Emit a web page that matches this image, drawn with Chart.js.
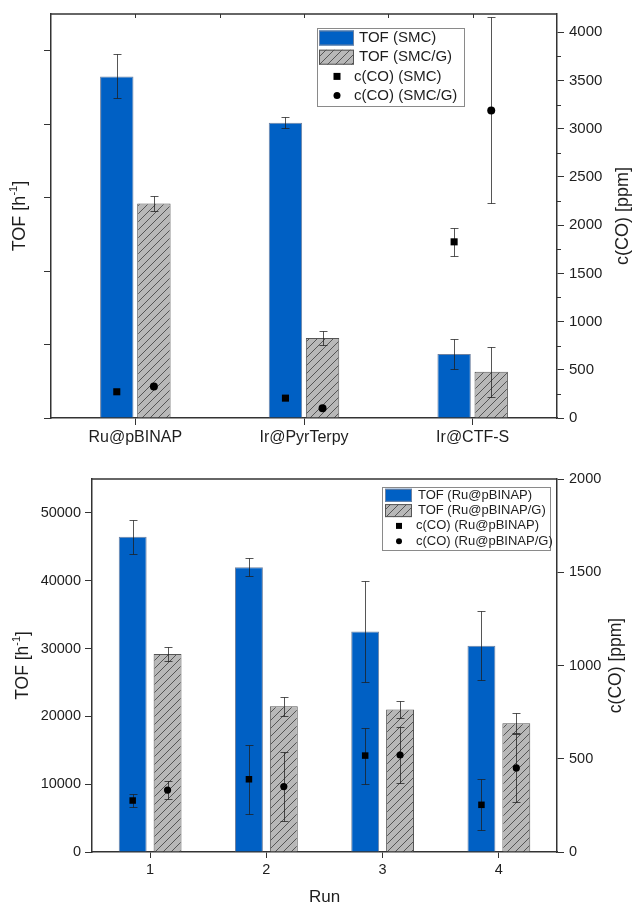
<!DOCTYPE html>
<html>
<head>
<meta charset="utf-8">
<title>TOF und c(CO)</title>
<style>
  body { margin: 0; background: #fff; }
  #wrap { position: relative; width: 633px; height: 906px; }
  canvas { position: absolute; left: 0; }
  #top { top: 0; }
  #bottom { top: 455px; }
</style>
</head>
<body>
<div id="wrap">
  <canvas id="top" width="633" height="455"></canvas>
  <canvas id="bottom" width="633" height="451"></canvas>
</div>

<script src="https://cdn.jsdelivr.net/npm/chart.js@4.4.1/dist/chart.umd.min.js"></script>
<script>
// ---- top panel: catalysts ----
var catalysts = ['Ru@pBINAP', 'Ir@PyrTerpy', 'Ir@CTF-S'];
var tofSMC = [46500, 40200, 8700];
var tofSMCErr = [3000, 750, 2000];
var tofSMCG = [29200, 10900, 6300];
var tofSMCGErr = [1000, 1000, 3400];
var coSMC = [272, 206, 1827];
var coSMCErr = [0, 0, 143];
var coSMCG = [327, 100, 3190];
var coSMCGErr = [0, 0, 965];
var tofTicksTop = [0, 10000, 20000, 30000, 40000, 50000];   // unlabelled
var coTicksTop = [0, 500, 1000, 1500, 2000, 2500, 3000, 3500, 4000];

// ---- bottom panel: recycling runs ----
var runs = ['1', '2', '3', '4'];
var tofRu = [46500, 42000, 32500, 30400];
var tofRuErr = [2500, 1300, 7400, 5100];
var tofRuG = [29200, 21500, 21000, 19000];
var tofRuGErr = [1050, 1400, 1200, 1500];
var coRu = [276, 390, 517, 253];
var coRuErr = [33, 185, 150, 136];
var coRuG = [332, 351, 520, 451];
var coRuGErr = [50, 183, 150, 182];
var tofTicksBot = [0, 10000, 20000, 30000, 40000, 50000];
var coTicksBot = [0, 500, 1000, 1500, 2000];

var FONT = "'Liberation Sans', Arial, sans-serif";
var INK = '#1e1e1e';
var AXIS = '#333';
var BLUE = '#0060c4';

Chart.defaults.font.family = FONT;
Chart.defaults.color = INK;

function hatch(ctx) {
  var c = document.createElement('canvas');
  c.width = 8; c.height = 8;
  var g = c.getContext('2d');
  g.fillStyle = '#b8b8b8';
  g.fillRect(0, 0, 8, 8);
  g.strokeStyle = '#4a4a4a';
  g.lineWidth = 0.9;
  g.beginPath(); g.moveTo(-1, 9); g.lineTo(9, -1); g.stroke();
  return ctx.createPattern(c, 'repeat');
}

// pair of marks around each category: left one at i - shift, right one at i + shift
function pts(values, shift) {
  return values.map(function (v, i) { return { x: i + shift, y: v }; });
}

// error bars: under the markers for scatter, over the bar for bars
function drawErr(chart, meta) {
  var ds = chart.data.datasets[meta.index];
  if (!ds.errors) return;
  var ctx = chart.ctx, ys = chart.scales[meta.yAxisID];
  ctx.save();
  ctx.strokeStyle = 'rgba(30,30,30,0.75)';
  ctx.lineWidth = 1;
  meta.data.forEach(function (el, i) {
    var e = ds.errors[i];
    if (!e) return;
    var v = ds.data[i].y;
    var x = Math.round(el.x) + 0.5;
    var y1 = Math.round(ys.getPixelForValue(v + e)) + 0.5;
    var y2 = Math.round(ys.getPixelForValue(v - e)) + 0.5;
    ctx.beginPath();
    ctx.moveTo(x, y1); ctx.lineTo(x, y2);
    ctx.moveTo(x - 4, y1); ctx.lineTo(x + 4, y1);
    ctx.moveTo(x - 4, y2); ctx.lineTo(x + 4, y2);
    ctx.stroke();
  });
  ctx.restore();
}

var errorBars = {
  id: 'errorBars',
  beforeDatasetDraw: function (chart, args) {
    if (args.meta.type === 'scatter') drawErr(chart, args.meta);
  },
  afterDatasetDraw: function (chart, args) {
    if (args.meta.type === 'bar') drawErr(chart, args.meta);
  }
};

// top frame line, inward top ticks, minor ticks on right axis
var frame = {
  id: 'frame',
  afterDraw: function (chart, args, o) {
    var ctx = chart.ctx, a = chart.chartArea;
    ctx.save();
    ctx.strokeStyle = AXIS;
    ctx.lineWidth = 1.5;
    ctx.beginPath(); ctx.moveTo(a.left, a.top); ctx.lineTo(a.right, a.top); ctx.stroke();
    ctx.lineWidth = 1;
    if (o.topTicks) {
      var xs = chart.scales.x, n = chart.data.labels.length;
      ctx.beginPath();
      for (var i = 0; i < n; i++) {
        var px = Math.round(xs.getPixelForValue(i)) + 0.5;
        ctx.moveTo(px, a.top); ctx.lineTo(px, a.top + 4);
        if (i < n - 1) {
          var bx = Math.round((xs.getPixelForValue(i) + xs.getPixelForValue(i + 1)) / 2) + 0.5;
          ctx.moveTo(bx, a.top); ctx.lineTo(bx, a.top + 4);
        }
      }
      ctx.stroke();
    }
    if (o.minorStep) {
      var y2 = chart.scales.y2;
      ctx.beginPath();
      for (var v = o.minorStep; v <= y2.max; v += 2 * o.minorStep) {
        var py = Math.round(y2.getPixelForValue(v)) + 0.5;
        ctx.moveTo(a.right, py); ctx.lineTo(a.right + 4, py);
      }
      ctx.stroke();
    }
    ctx.restore();
  }
};

function drawRich(ctx, parts, size) {
  var total = 0;
  parts.forEach(function (p) {
    ctx.font = (p[1] ? size * 0.62 : size) + 'px ' + FONT;
    total += ctx.measureText(p[0]).width;
  });
  var x = -total / 2;
  parts.forEach(function (p) {
    ctx.font = (p[1] ? size * 0.62 : size) + 'px ' + FONT;
    ctx.fillText(p[0], x, p[1] ? -size * 0.36 : 0);
    x += ctx.measureText(p[0]).width;
  });
}

var axisTitles = {
  id: 'axisTitles',
  afterDraw: function (chart, args, o) {
    var ctx = chart.ctx, a = chart.chartArea;
    ctx.save();
    ctx.fillStyle = INK;
    ctx.textBaseline = 'middle';
    ctx.textAlign = 'left';
    o.items.forEach(function (t) {
      ctx.save();
      var cx = t.x == null ? (a.left + a.right) / 2 : t.x;
      var cy = t.y == null ? (a.top + a.bottom) / 2 : t.y;
      ctx.translate(cx, cy);
      if (t.rotate) ctx.rotate(-Math.PI / 2);
      drawRich(ctx, t.parts, t.size);
      ctx.restore();
    });
    ctx.restore();
  }
};

var boxLegend = {
  id: 'boxLegend',
  afterDraw: function (chart, args, o) {
    var ctx = chart.ctx;
    ctx.save();
    ctx.fillStyle = '#fff';
    ctx.fillRect(o.x, o.y, o.w, o.h);
    ctx.strokeStyle = '#8a8a8a';
    ctx.lineWidth = 1;
    ctx.strokeRect(o.x + 0.5, o.y + 0.5, o.w, o.h);
    ctx.font = o.size + 'px ' + FONT;
    ctx.textBaseline = 'middle';
    chart.data.datasets.forEach(function (ds, i) {
      var cy = o.y + o.first + i * o.row;
      if (ds.type === 'scatter') {
        ctx.fillStyle = '#000';
        if (ds.pointStyle === 'rect') {
          ctx.fillRect(o.mark - o.ms / 2, cy - o.ms / 2, o.ms, o.ms);
        } else {
          ctx.beginPath(); ctx.arc(o.mark, cy, o.ms / 2, 0, 2 * Math.PI); ctx.fill();
        }
        ctx.fillStyle = INK;
        ctx.fillText(ds.label, o.textPt, cy);
      } else {
        ctx.fillStyle = ds.backgroundColor;
        ctx.fillRect(o.sx, cy - o.sh / 2, o.sw, o.sh);
        ctx.strokeStyle = ds.borderColor;
        ctx.strokeRect(o.sx + 0.5, cy - o.sh / 2 + 0.5, o.sw - 1, o.sh - 1);
        ctx.fillStyle = INK;
        ctx.fillText(ds.label, o.textBar, cy);
      }
    });
    ctx.restore();
  }
};

function fixW(w) { return function (s) { s.width = w; }; }
function fixH(h) { return function (s) { s.height = h; }; }
function useTicks(list) {
  return function (s) { s.ticks = list.map(function (v) { return { value: v }; }); };
}

function yAxis(pos, max, tickList, width, size, showLabels) {
  return {
    position: pos, min: 0, max: max,
    afterFit: fixW(width),
    afterBuildTicks: useTicks(tickList),
    ticks: { display: showLabels, padding: pos === 'left' ? 4 : 5, font: { size: size }, color: INK,
      callback: function (v) { return String(v); } },
    grid: { drawOnChartArea: false, tickLength: 7, tickColor: AXIS, tickWidth: 1 },
    border: { display: true, color: AXIS, width: 1.5 }
  };
}

// category axis only carries labels and ticks; marks sit on a hidden linear twin
function xAxes(labels, height, size, tickLen) {
  return {
    x: {
      type: 'category', labels: labels, offset: true, afterFit: fixH(height),
      ticks: { padding: 3, font: { size: size }, color: INK },
      grid: { offset: false, drawOnChartArea: false, tickLength: tickLen, tickColor: AXIS },
      border: { display: true, color: AXIS, width: 1.5 }
    },
    x2: { type: 'linear', display: false, offset: false, min: -0.5, max: labels.length - 0.5, ticks: { stepSize: 1 } }
  };
}

function makeChart(canvasId, cfg) {
  var ctx = document.getElementById(canvasId).getContext('2d');
  var h = cfg.shift;
  var scales = xAxes(cfg.labels, cfg.xHeight, cfg.xSize, cfg.xTick);
  scales.y = yAxis('left', 55000, cfg.tofTicks, cfg.leftW, cfg.tickSize, cfg.leftLabels);
  scales.y2 = yAxis('right', cfg.coMax, cfg.coTicks, 76, cfg.tickSize, true);
  var barBase = { xAxisID: 'x2', yAxisID: 'y', grouped: false, borderWidth: 1, order: 1,
    categoryPercentage: 1, barPercentage: cfg.barPct };
  var ptBase = { type: 'scatter', xAxisID: 'x2', yAxisID: 'y2', order: 0,
    backgroundColor: '#000', borderColor: '#000', borderWidth: 0 };
  return new Chart(ctx, {
    type: 'bar',
    data: {
      labels: cfg.labels,
      datasets: [
        Object.assign({}, barBase, { label: cfg.names[0], data: pts(cfg.tofA, -h), errors: cfg.tofAErr,
          backgroundColor: BLUE, borderColor: '#6f82a0' }),
        Object.assign({}, barBase, { label: cfg.names[1], data: pts(cfg.tofB, h), errors: cfg.tofBErr,
          backgroundColor: hatch(ctx), borderColor: '#555' }),
        Object.assign({}, ptBase, { label: cfg.names[2], data: pts(cfg.coA, -h), errors: cfg.coAErr,
          pointStyle: 'rect', pointRadius: cfg.sqR }),
        Object.assign({}, ptBase, { label: cfg.names[3], data: pts(cfg.coB, h), errors: cfg.coBErr,
          pointStyle: 'circle', pointRadius: cfg.dotR })
      ]
    },
    options: {
      responsive: false, animation: false, events: [],
      layout: { padding: { top: cfg.padTop, left: 0, right: 0, bottom: 0 } },
      scales: scales,
      plugins: {
        legend: { display: false },
        tooltip: { enabled: false },
        frame: cfg.frame,
        axisTitles: { items: cfg.titles },
        boxLegend: cfg.legend
      }
    },
    plugins: [errorBars, frame, axisTitles, boxLegend]
  });
}

makeChart('top', {
  labels: catalysts,
  names: ['TOF (SMC)', 'TOF (SMC/G)', 'c(CO) (SMC)', 'c(CO) (SMC/G)'],
  tofA: tofSMC, tofAErr: tofSMCErr, tofB: tofSMCG, tofBErr: tofSMCGErr,
  coA: coSMC, coAErr: coSMCErr, coB: coSMCG, coBErr: coSMCGErr,
  tofTicks: tofTicksTop, coTicks: coTicksTop, coMax: 4190,
  shift: 0.11, barPct: 0.9, sqR: 5, dotR: 4,
  padTop: 12, xHeight: 37, xSize: 16, xTick: 7, leftW: 51, leftLabels: false, tickSize: 15,
  frame: { topTicks: true, minorStep: 250 },
  titles: [
    { x: 20, rotate: true, size: 18, parts: [['TOF [h'], ['-1', true], [']']] },
    { x: 623, rotate: true, size: 18, parts: [['c(CO) [ppm]']] }
  ],
  legend: { x: 317, y: 28, w: 147, h: 78, first: 10, row: 19.2, size: 15,
    sx: 319, sw: 35, sh: 15, textBar: 359, textPt: 354, mark: 337, ms: 7 }
});

makeChart('bottom', {
  labels: runs,
  names: ['TOF (Ru@pBINAP)', 'TOF (Ru@pBINAP/G)', 'c(CO) (Ru@pBINAP)', 'c(CO) (Ru@pBINAP/G)'],
  tofA: tofRu, tofAErr: tofRuErr, tofB: tofRuG, tofBErr: tofRuGErr,
  coA: coRu, coAErr: coRuErr, coB: coRuG, coBErr: coRuGErr,
  tofTicks: tofTicksBot, coTicks: coTicksBot, coMax: 2000,
  shift: 0.15, barPct: 0.8, sqR: 4.6, dotR: 3.6,
  padTop: 24, xHeight: 54, xSize: 14.5, xTick: 6, leftW: 92, leftLabels: true, tickSize: 14.5,
  frame: {},
  titles: [
    { x: 23, rotate: true, size: 17.5, parts: [['TOF [h'], ['-1', true], [']']] },
    { x: 616, rotate: true, size: 17.5, parts: [['c(CO) [ppm]']] },
    { y: 442, size: 17, parts: [['Run']] }
  ],
  legend: { x: 382, y: 32, w: 168, h: 63, first: 8.3, row: 15.3, size: 13,
    sx: 385, sw: 27, sh: 13, textBar: 418, textPt: 416, mark: 399, ms: 6 }
});
</script>
</body>
</html>
